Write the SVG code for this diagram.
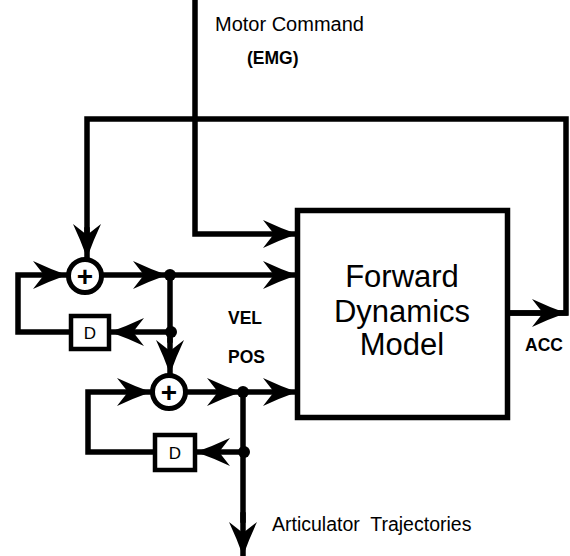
<svg xmlns="http://www.w3.org/2000/svg" width="570" height="556" viewBox="0 0 570 556">
<defs>
<marker id="arr" markerUnits="userSpaceOnUse" markerWidth="34" markerHeight="28" viewBox="0 0 34 28" refX="33" refY="14" orient="auto">
<path d="M34,14 Q17,8 0,0 Q7,9 11,14 Q7,19 0,28 Q17,20 34,14 Z" fill="#000"/>
</marker>
<style>
.ln{fill:none;stroke:#000;stroke-width:5.5;stroke-linejoin:miter;stroke-linecap:square}
.a{marker-end:url(#arr)}
.sum{fill:#fff;stroke:#000;stroke-width:5}
.del{fill:#fff;stroke:#000;stroke-width:4.5}
.dot{fill:#000}
.t{font-family:"Liberation Sans",Arial,sans-serif;fill:#000}
.b{font-weight:bold;font-size:17.5px}
</style>
</defs>
<rect width="570" height="556" fill="#fff"/>
<g id="connectors">
<path class="ln a" d="M195,0 V234 H296"/>
<path class="ln" d="M508,313 H566 V119 H87 V240"/>
<path class="ln a" d="M508,313 H565"/>
<path class="ln a" d="M87,230 V257"/>
<path class="ln a" d="M69,332 H18 V275 H66"/>
<path class="ln a" d="M104,275 H166"/>
<path class="ln a" d="M170,275 H296"/>
<path class="ln" d="M170,275 V340"/>
<path class="ln a" d="M170,332 H111"/>
<path class="ln a" d="M170,340 V373"/>
<path class="ln a" d="M153,452 H88 V392 H150"/>
<path class="ln a" d="M188,392 H240"/>
<path class="ln a" d="M243,392 H296"/>
<path class="ln" d="M243,392 V520"/>
<path class="ln a" d="M243,452 H197"/>
<path class="ln a" d="M243,515 V555"/>
<circle class="dot" cx="170" cy="275" r="6"/>
<circle class="dot" cx="171" cy="332" r="6"/>
<circle class="dot" cx="243" cy="392" r="6"/>
<circle class="dot" cx="244" cy="452" r="6"/>
</g>
<g id="sum1">
<circle class="sum" cx="85" cy="276" r="16.5"/>
<text class="t" x="85" y="286" font-size="28" font-weight="bold" text-anchor="middle">+</text>
</g>
<g id="sum2">
<circle class="sum" cx="169" cy="392" r="16.5"/>
<text class="t" x="169" y="402" font-size="28" font-weight="bold" text-anchor="middle">+</text>
</g>
<g id="delay1">
<rect class="del" x="71" y="316" width="38" height="33"/>
<text class="t" x="90" y="339" font-size="17" text-anchor="middle">D</text>
</g>
<g id="delay2">
<rect class="del" x="155" y="435" width="40" height="35"/>
<text class="t" x="175" y="459" font-size="17" text-anchor="middle">D</text>
</g>
<g id="model">
<rect x="297.5" y="210.5" width="210" height="207" fill="#fff" stroke="#000" stroke-width="5.5"/>
<text class="t" x="402" y="287" font-size="31" text-anchor="middle">Forward</text>
<text class="t" x="402" y="322" font-size="31" text-anchor="middle">Dynamics</text>
<text class="t" x="402" y="355" font-size="31" text-anchor="middle">Model</text>
</g>
<g id="labels">
<text class="t" x="215" y="31" font-size="20">Motor Command</text>
<text class="t b" x="247" y="64">(EMG)</text>
<text class="t b" x="228" y="324">VEL</text>
<text class="t b" x="228" y="363">POS</text>
<text class="t b" x="525" y="351">ACC</text>
<text class="t" x="272" y="531" font-size="19.5" xml:space="preserve">Articulator  Trajectories</text>
</g>
</svg>
